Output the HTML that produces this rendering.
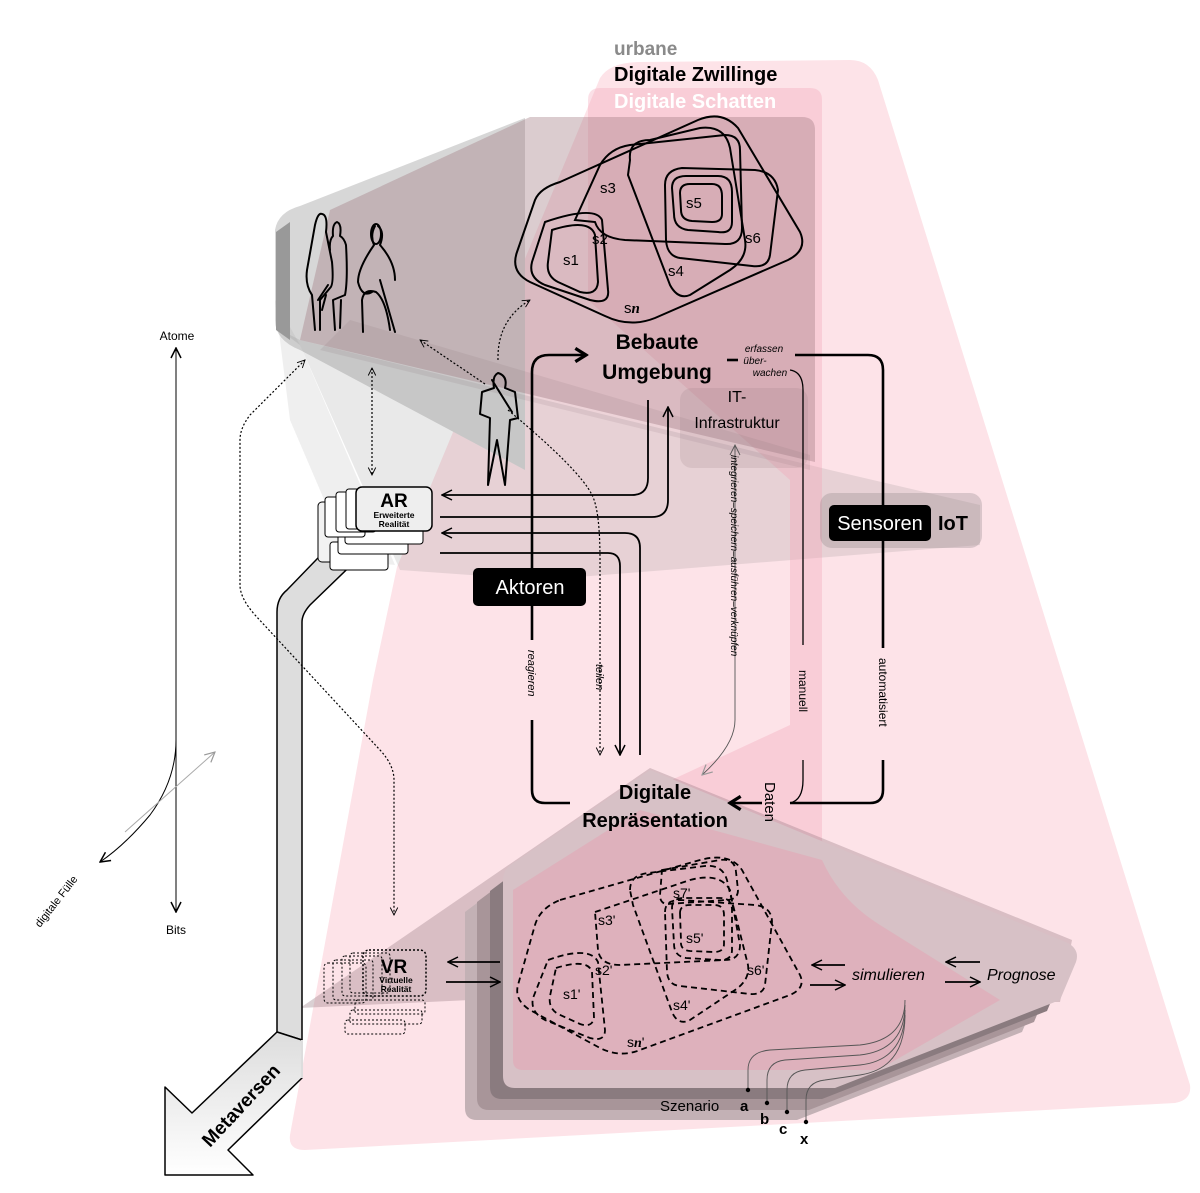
<!DOCTYPE html>
<html><head><meta charset="utf-8"><style>
html,body{margin:0;padding:0;background:#fff;}
svg{display:block;font-family:"Liberation Sans",sans-serif;}
</style></head><body>
<svg width="1200" height="1193" viewBox="0 0 1200 1193" xmlns="http://www.w3.org/2000/svg">
<defs>
<marker id="ah" viewBox="0 0 12 12" refX="11" refY="6" markerWidth="12" markerHeight="12" markerUnits="userSpaceOnUse" orient="auto"><path d="M1 1 L11 6 L1 11" fill="none" stroke="#000" stroke-width="1.5"/></marker>
<marker id="ahs" viewBox="0 0 12 12" refX="11" refY="6" markerWidth="9" markerHeight="9" markerUnits="userSpaceOnUse" orient="auto-start-reverse"><path d="M1 1 L11 6 L1 11" fill="none" stroke="#000" stroke-width="1.2"/></marker>
<marker id="ahg" viewBox="0 0 12 12" refX="11" refY="6" markerWidth="12" markerHeight="12" markerUnits="userSpaceOnUse" orient="auto"><path d="M1 1 L11 6 L1 11" fill="none" stroke="#999" stroke-width="1.2"/></marker>
<marker id="ahb" viewBox="0 0 12 12" refX="10" refY="6" markerWidth="16" markerHeight="16" markerUnits="userSpaceOnUse" orient="auto"><path d="M2 1 L10 6 L2 11" fill="none" stroke="#000" stroke-width="2.4"/></marker>
<linearGradient id="mg" x1="0" y1="0" x2="0" y2="1"><stop offset="0" stop-color="#ddd"/><stop offset="1" stop-color="#fff"/></linearGradient>
</defs>

<!-- light pink outer -->
<path d="M600 78 Q610 62 640 62 L850 60 Q870 60 878 80 L1190 1085 Q1192 1100 1175 1103 L305 1150 Q288 1150 290 1135 L373 680 L397 567 Z" fill="#fde3e8"/>
<!-- gray people area and band -->
<path d="M275 230 Q278 212 300 206 L525 118 L525 470 L300 350 Q275 340 275 320 Z" fill="#d7d7d7"/>
<path d="M280 330 L300 345 L400 570 L540 580 L980 545 L980 505 L830 470 L300 340 Z" fill="rgba(120,120,120,0.16)"/>
<path d="M275 300 L300 345 L395 565 L350 560 L290 420 Z" fill="rgba(150,150,150,0.15)"/>
<path d="M276 232 L290 222 L290 340 L276 330 Z" fill="#999"/>
<!-- medium pink strip -->
<path d="M588 100 Q588 88 600 88 L810 88 Q822 88 822 100 L822 840 Q830 880 870 910 L1000 1000 L880 1070 L650 790 L790 725 L790 480 L588 300 Z" fill="rgba(242,160,180,0.32)"/>
<!-- dark box -->
<path d="M530 117 L802 117 Q815 117 815 130 L815 462 L300 340 L330 210 Z" fill="rgba(160,120,130,0.38)"/>
<path d="M350 320 L810 455 L810 470 L320 350 Z" fill="rgba(120,100,105,0.12)"/>
<!-- IT box -->
<rect x="680" y="388" width="128" height="80" rx="12" fill="rgba(150,120,125,0.18)"/>
<!-- IoT box -->
<rect x="820" y="493" width="162" height="55" rx="12" fill="rgba(140,130,132,0.3)"/>
<!-- lower gray fan -->
<path d="M650 768 L1072 940 L1060 1002 L470 1000 L300 1008 Z" fill="rgba(150,120,128,0.35)"/>
<!-- stacked layers -->
<g>
<path transform="translate(-38 32)" d="M503 880 L650 770 L1068 943 Q1080 950 1076 962 L1060 1000 L835 1088 L515 1088 Q503 1088 503 1076 Z" fill="#c3b1b5"/>
<path transform="translate(-26 22)" d="M503 880 L650 770 L1068 943 Q1080 950 1076 962 L1060 1000 L835 1088 L515 1088 Q503 1088 503 1076 Z" fill="#a89599"/>
<path transform="translate(-13 11)" d="M503 880 L650 770 L1068 943 Q1080 950 1076 962 L1060 1000 L835 1088 L515 1088 Q503 1088 503 1076 Z" fill="#8a7b7f"/>
<path d="M503 880 Q503 868 515 862 L650 770 L1068 943 Q1080 950 1076 962 L1060 1000 L835 1088 L515 1088 Q503 1088 503 1076 Z" fill="#d7c1c6"/>
</g>
<path d="M513 890 L640 810 L822 860 Q840 900 880 925 L1000 1000 L878 1070 L523 1070 Q513 1070 513 1060 Z" fill="rgba(236,150,170,0.35)"/>

<!-- titles -->
<text x="614" y="55" font-size="19" font-weight="bold" fill="#8a8a8a">urbane</text>
<text x="614" y="81" font-size="20" font-weight="bold" fill="#000">Digitale Zwillinge</text>
<text x="614" y="108" font-size="20" font-weight="bold" fill="#fff">Digitale Schatten</text>

<!-- sets top -->
<g fill="none" stroke="#000" stroke-width="2">
<path d="M560 182 L698 120 Q722 110 738 128 L800 232 Q808 250 788 260 L655 318 Q630 328 605 316 L530 282 Q510 272 517 252 L535 200 Q540 188 560 182 Z"/>
<path d="M545 222 Q595 205 602 220 L608 290 Q610 305 590 300 L545 285 Q528 278 532 262 Z"/>
<path d="M552 230 Q590 218 595 235 L598 282 Q597 296 580 292 L558 282 Q546 276 548 262 Z"/>
<path d="M575 220 L600 165 Q610 148 630 145 L725 135 Q740 135 740 150 L742 228 Q742 245 725 244 L625 240 Q600 238 595 222 Z"/>
<path d="M630 160 Q628 140 650 140 L700 128 Q725 125 730 148 L745 240 Q748 258 730 270 L690 295 Q678 300 670 285 L628 175 Z"/>
<path d="M665 185 Q665 170 682 168 L755 170 Q775 172 778 190 L770 255 Q768 268 752 266 L680 258 Q667 256 666 240 Z"/>
<path d="M672 188 Q672 176 686 176 L718 176 Q732 176 732 192 L732 222 Q732 234 718 232 L688 230 Q674 228 674 214 Z"/>
<path d="M680 193 Q680 184 690 184 L712 184 Q722 184 722 196 L722 214 Q722 222 712 222 L692 221 Q681 220 681 210 Z"/>
</g>
<g font-size="15" fill="#000">
<text x="563" y="265">s1</text><text x="592" y="244">s2</text><text x="600" y="193">s3</text>
<text x="668" y="276">s4</text><text x="686" y="208">s5</text><text x="745" y="243">s6</text>
<text x="624" y="313">s<tspan font-style="italic" font-family="Liberation Serif" font-weight="bold">n</tspan></text>
</g>

<!-- sets dashed lower -->
<g fill="none" stroke="#000" stroke-width="1.8" stroke-dasharray="6 4">
<path d="M560 900 L700 860 Q730 852 742 870 L800 975 Q806 988 790 995 L640 1050 Q620 1058 600 1048 L530 1010 Q514 1000 518 985 L535 925 Q540 908 560 900 Z"/>
<path d="M548 960 Q590 945 598 962 L605 1030 Q605 1042 590 1038 L545 1020 Q530 1012 533 998 Z"/>
<path d="M556 968 Q588 958 592 972 L594 1018 Q592 1028 580 1024 L558 1014 Q548 1008 550 996 Z"/>
<path d="M595 912 L690 880 Q720 872 730 890 L740 945 Q740 960 725 960 L620 965 Q600 965 598 950 Z"/>
<path d="M630 890 Q630 875 648 873 L705 866 Q725 864 728 885 L748 965 Q750 980 735 990 L690 1020 Q678 1026 672 1012 L633 905 Z"/>
<path d="M665 912 Q665 900 680 900 L755 905 Q772 907 772 922 L765 985 Q763 995 750 994 L680 986 Q668 985 667 972 Z"/>
<path d="M672 908 Q672 898 684 898 L720 898 Q732 898 732 910 L732 950 Q732 960 720 960 L686 958 Q674 956 674 944 Z"/>
<path d="M680 913 Q680 905 690 905 L714 905 Q724 905 724 915 L724 944 Q724 952 714 952 L690 951 Q680 950 681 941 Z"/>
<path d="M662 870 L720 860 Q735 858 736 872 L738 890 Q738 900 726 900 L668 904 Q660 904 660 895 Z"/>
</g>
<g font-size="14" fill="#000">
<text x="563" y="999">s1'</text><text x="595" y="975">s2'</text><text x="598" y="925">s3'</text>
<text x="673" y="1010">s4'</text><text x="686" y="943">s5'</text><text x="747" y="975">s6'</text><text x="673" y="898">s7'</text>
<text x="627" y="1047">s<tspan font-style="italic" font-family="Liberation Serif" font-weight="bold">n</tspan>'</text>
</g>

<!-- axis -->
<text x="177" y="340" font-size="12" text-anchor="middle">Atome</text>
<line x1="176" y1="910" x2="176" y2="348" stroke="#000" stroke-width="1" marker-end="url(#ah)"/>
<line x1="176" y1="348" x2="176" y2="912" stroke="#000" stroke-width="1" marker-end="url(#ah)"/>
<text x="176" y="934" font-size="12" text-anchor="middle">Bits</text>
<path d="M176 740 Q176 780 150 815 Q125 845 100 862" fill="none" stroke="#000" stroke-width="1" marker-end="url(#ah)"/>
<line x1="125" y1="832" x2="215" y2="752" stroke="#aaa" stroke-width="1" marker-end="url(#ahg)"/>
<text x="0" y="0" font-size="11" transform="translate(40 928) rotate(-52)">digitale Fülle</text>

<!-- Metaversen -->
<path d="M277 1032 L277 612 Q277 598 287 590 L345 530 L372 545 L310 605 Q302 614 302 622 L302 1040 Z" fill="#ddd" stroke="#000" stroke-width="1.5"/>
<path d="M277 1032 L192 1113 L165 1087 L165 1175 L253 1175 L228 1150 L302 1078 L302 1040 Z" fill="url(#mg)" stroke="#000" stroke-width="1.5" stroke-linejoin="round"/>
<path d="M302 1040 L302 1078" stroke="#ddd" stroke-width="2"/>
<text x="0" y="0" font-size="19" font-weight="bold" transform="translate(210 1148) rotate(-47)">Metaversen</text>

<!-- AR -->
<g stroke="#000" stroke-width="1" fill="#fff">
<rect x="318" y="502" width="60" height="60" rx="4" fill="#f2f2f2"/>
<rect x="330" y="542" width="58" height="28" rx="3"/>
<rect x="338" y="532" width="70" height="22" rx="3"/>
<rect x="345" y="522" width="78" height="22" rx="3"/>
<rect x="325" y="497" width="40" height="40" rx="3"/>
<rect x="336" y="492" width="40" height="40" rx="3"/>
<rect x="346" y="489" width="40" height="40" rx="3"/>
</g>
<rect x="356" y="487" width="76" height="44" rx="6" fill="#eee" stroke="#000" stroke-width="1.5"/>
<text x="394" y="507" font-size="19" font-weight="bold" text-anchor="middle">AR</text>
<text x="394" y="518" font-size="8.5" font-weight="bold" text-anchor="middle">Erweiterte</text>
<text x="394" y="527" font-size="8.5" font-weight="bold" text-anchor="middle">Realität</text>

<!-- VR -->
<g stroke="#000" stroke-width="1" fill="none" stroke-dasharray="2 2">
<rect x="324" y="963" width="42" height="40" rx="4"/>
<rect x="333" y="960" width="40" height="40" rx="3"/>
<rect x="342" y="956" width="40" height="40" rx="3"/>
<rect x="350" y="953" width="40" height="40" rx="3"/>
<rect x="345" y="1020" width="60" height="14" rx="3"/>
<rect x="350" y="1010" width="72" height="14" rx="3"/>
<rect x="355" y="1000" width="70" height="14" rx="3"/>
<rect x="363" y="950" width="63" height="46" rx="6" stroke-width="1.5"/>
</g>
<text x="394" y="973" font-size="19" font-weight="bold" text-anchor="middle">VR</text>
<text x="396" y="983" font-size="8.5" font-weight="bold" text-anchor="middle">Virtuelle</text>
<text x="396" y="992" font-size="8.5" font-weight="bold" text-anchor="middle">Realität</text>

<!-- people -->
<g fill="none" stroke="#000" stroke-width="2" stroke-linejoin="round" stroke-linecap="round">
<path d="M315 330 L312 295 Q305 285 307 270 L315 225 Q318 212 322 214 Q328 215 326 232 L332 262 Q334 285 330 288 L320 300 L320 330"/>
<path d="M318 300 L328 285 M322 310 L326 295"/>
<path d="M335 330 L333 300 L345 295 Q348 280 346 245 Q344 238 340 236 Q342 224 337 222 Q332 224 333 236 Q329 240 330 250"/>
<path d="M341 300 L340 328"/>
<path d="M363 332 L362 300 Q364 288 376 292 Q386 300 390 330 M380 280 L395 332 M375 226 Q370 235 374 245 Q358 268 358 282 Q362 298 372 292 M378 226 Q385 232 380 245 Q395 262 395 280"/>
<ellipse cx="376" cy="234" rx="5" ry="10"/>
<path d="M498 373 Q492 376 494 388 L482 392 L480 414 L490 418 L488 485 L497 440 L505 485 L510 420 L518 418 L515 392 L505 388 Q508 376 498 373 Z"/>
<path d="M492 380 L512 412"/>
</g>

<!-- dotted arrows -->
<g fill="none" stroke="#000" stroke-width="1.2" stroke-dasharray="2 2">
<path d="M498 360 Q497 320 530 300" marker-end="url(#ahs)"/>
<path d="M485 384 L420 340" marker-end="url(#ahs)"/>
<path d="M372 368 L372 475" marker-start="url(#ahs)" marker-end="url(#ahs)"/>
<path d="M508 410 Q580 470 592 495 Q600 510 600 560 L600 755" marker-end="url(#ahs)"/>
<path d="M305 360 L250 415 Q240 428 240 440 L240 585 Q240 598 255 615 L380 750 Q394 765 394 780 L394 915" marker-start="url(#ahs)" marker-end="url(#ahs)"/>
</g>

<!-- main connectors -->
<g fill="none" stroke="#000" stroke-width="2.6">
<path d="M532 640 L532 372 Q532 355 549 355 L586 355" marker-end="url(#ahb)"/>
<path d="M532 720 L532 790 Q532 803 545 803 L570 803"/>
<path d="M795 355 L868 355 Q883 355 883 370 L883 648"/>
<path d="M883 760 L883 790 Q883 803 870 803 L790 803"/>
<path d="M762 803 L730 803" marker-end="url(#ahb)"/>
<path d="M727 360 L738 360"/>
</g>
<g fill="none" stroke="#000" stroke-width="1.3">
<path d="M790 370 Q803 372 803 390 L803 645"/>
<path d="M803 760 L803 780 Q803 800 790 803"/>
</g>
<g fill="none" stroke="#000" stroke-width="1.8">
<path d="M648 400 L648 478 Q648 495 632 495 L442 495" marker-end="url(#ah)"/>
<path d="M440 517 L652 517 Q668 517 668 500 L668 407" marker-end="url(#ah)"/>
<path d="M640 755 L640 548 Q640 533 625 533 L442 533" marker-end="url(#ah)"/>
<path d="M440 553 L608 553 Q620 553 620 566 L620 755" marker-end="url(#ah)"/>
<path d="M500 962 L448 962" marker-end="url(#ah)"/>
<path d="M446 982 L500 982" marker-end="url(#ah)"/>
<path d="M845 965 L812 965" marker-end="url(#ah)"/>
<path d="M810 985 L845 985" marker-end="url(#ah)"/>
<path d="M980 962 L946 962" marker-end="url(#ah)"/>
<path d="M945 982 L980 982" marker-end="url(#ah)"/>
</g>
<g fill="none" stroke="#555" stroke-width="0.9">
<path d="M735 445 L735 720 Q735 745 702 775" marker-end="url(#ahg)"/>
<path d="M905 1000 Q905 1040 860 1045 L770 1050 Q748 1052 748 1070 L748 1090"/>
<path d="M905 1005 Q905 1050 860 1055 L785 1060 Q767 1062 767 1080 L767 1103"/>
<path d="M905 1010 Q905 1060 860 1065 L805 1070 Q787 1072 787 1090 L787 1112"/>
<path d="M905 1015 Q905 1068 860 1075 L825 1080 Q806 1082 806 1100 L806 1122"/>
</g>
<path d="M730 455 L735 445 L740 455" fill="none" stroke="#555" stroke-width="0.9"/>
<g fill="#000"><circle cx="748" cy="1090" r="2.2"/><circle cx="767" cy="1103" r="2.2"/><circle cx="787" cy="1112" r="2.2"/><circle cx="806" cy="1122" r="2.2"/></g>

<!-- labels -->
<text x="657" y="349" font-size="21" font-weight="bold" text-anchor="middle">Bebaute</text>
<text x="657" y="379" font-size="21" font-weight="bold" text-anchor="middle">Umgebung</text>
<text x="764" y="352" font-size="10" font-style="italic" text-anchor="middle">erfassen</text>
<text x="755" y="364" font-size="10" font-style="italic" text-anchor="middle">über-</text>
<text x="770" y="376" font-size="10" font-style="italic" text-anchor="middle">wachen</text>
<text x="737" y="402" font-size="16" text-anchor="middle">IT-</text>
<text x="737" y="428" font-size="16" text-anchor="middle">Infrastruktur</text>
<text x="655" y="799" font-size="20" font-weight="bold" text-anchor="middle">Digitale</text>
<text x="655" y="827" font-size="20" font-weight="bold" text-anchor="middle">Repräsentation</text>
<text x="0" y="0" font-size="15" transform="translate(765 782) rotate(90)">Daten</text>
<rect x="473" y="568" width="113" height="38" rx="5" fill="#000"/>
<text x="530" y="594" font-size="20" fill="#fff" text-anchor="middle">Aktoren</text>
<rect x="829" y="505" width="102" height="36" rx="5" fill="#000"/>
<text x="880" y="530" font-size="20" fill="#fff" text-anchor="middle">Sensoren</text>
<text x="938" y="530" font-size="20" font-weight="bold">IoT</text>
<g font-size="11" font-style="italic">
<text x="0" y="0" transform="translate(528 650) rotate(90)">reagieren</text>
<text x="0" y="0" transform="translate(596 664) rotate(90)">teilen</text>
<text x="0" y="0" transform="translate(731 455) rotate(90)" font-size="10">integrieren–speichern–ausführen–verknüpfen</text>
</g>
<text x="0" y="0" font-size="12" transform="translate(799 670) rotate(90)">manuell</text>
<text x="0" y="0" font-size="12" transform="translate(879 658) rotate(90)">automatisiert</text>
<text x="852" y="980" font-size="16" font-style="italic">simulieren</text>
<text x="987" y="980" font-size="16" font-style="italic">Prognose</text>
<text x="660" y="1111" font-size="15">Szenario</text>
<text x="740" y="1111" font-size="15" font-weight="bold">a</text>
<text x="760" y="1124" font-size="15" font-weight="bold">b</text>
<text x="779" y="1134" font-size="15" font-weight="bold">c</text>
<text x="800" y="1144" font-size="15" font-weight="bold">x</text>
</svg>
</body></html>
